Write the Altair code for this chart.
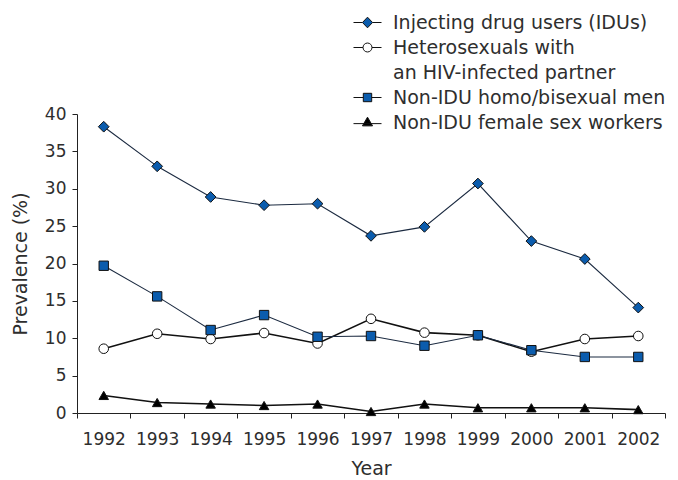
import altair as alt
import pandas as pd

BLUE = "#0B5CAD"
INK = "#222222"
TEXT = "#2e2e2e"
FONT = "DejaVu Sans"

years = ["1992", "1993", "1994", "1995", "1996", "1997", "1998", "1999", "2000", "2001", "2002"]
series_names = [
    "Injecting drug users (IDUs)",
    "Heterosexuals with an HIV-infected partner",
    "Non-IDU homo/bisexual men",
    "Non-IDU female sex workers",
]
idu = [38.3, 33.0, 28.9, 27.8, 28.0, 23.7, 24.9, 30.7, 23.0, 20.6, 14.1]
het = [8.6, 10.6, 9.9, 10.7, 9.3, 12.6, 10.75, 10.4, 8.2, 9.9, 10.3]
msm = [19.7, 15.6, 11.1, 13.1, 10.2, 10.3, 9.0, 10.4, 8.4, 7.5, 7.5]
fsw = [2.35, 1.4, 1.2, 1.0, 1.2, 0.2, 1.2, 0.7, 0.7, 0.7, 0.45]

marker_shapes = ["diamond", "circle", "square", "triangle-up"]
marker_fills = [BLUE, "white", BLUE, "black"]
marker_sizes = [115, 92, 88, 90]
line_colors = ["#1b2a40", "#111111", "#1b2a40", "#111111"]
line_widths = [1.1, 1.6, 1.1, 1.6]

legend_labels = [
    "Injecting drug users (IDUs)",
    "Heterosexuals with",
    "an HIV-infected partner",
    "Non-IDU homo/bisexual men",
    "Non-IDU female sex workers",
]
legend_paths = [
    "M-1,0H-0.36M0.36,0H1M0,-0.38L0.36,0L0,0.38L-0.36,0Z",
    "M-1,0H-0.32M0.32,0H1M0.32,0A0.32,0.32 0 1,1 -0.32,0A0.32,0.32 0 1,1 0.32,0Z",
    "M0,0",
    "M-1,0H-0.3M0.3,0H1M-0.3,-0.3H0.3V0.3H-0.3Z",
    "M-1,0.08H1M0,-0.38L0.36,0.24L-0.36,0.24Z",
]
legend_fills = [BLUE, "white", "transparent", BLUE, "black"]
legend_strokes = ["#111111", "#111111", "transparent", "#111111", "#111111"]

rows = []
for name, vals in zip(series_names, [idu, het, msm, fsw]):
    for yr, v in zip(years, vals):
        rows.append({"Year": yr, "Group": name, "Prevalence": v})
df = pd.DataFrame(rows)

x = alt.X(
    "Year:O",
    sort=years,
    scale=alt.Scale(type="band", paddingInner=0, paddingOuter=0),
    axis=alt.Axis(tickBand="extent", labelAngle=0, labelPadding=13, titlePadding=12, tickSize=5),
    title="Year",
)
y = alt.Y(
    "Prevalence:Q",
    scale=alt.Scale(domain=[0, 40], nice=False),
    axis=alt.Axis(values=list(range(0, 41, 5)), labelPadding=6, titlePadding=14, tickSize=5),
    title="Prevalence (%)",
)

base = alt.Chart(df)

layers = []
for name, lc, lw in zip(series_names, line_colors, line_widths):
    layers.append(
        base.transform_filter(alt.datum.Group == name)
        .mark_line(color=lc, strokeWidth=lw)
        .encode(x=x, y=y)
    )
for name, shp, fl, sz in zip(series_names, marker_shapes, marker_fills, marker_sizes):
    layers.append(
        base.transform_filter(alt.datum.Group == name)
        .mark_point(filled=True, shape=shp, size=sz, fill=fl, stroke="#111111", strokeWidth=1, opacity=1)
        .encode(x=x, y=y)
    )

leg = alt.Legend(
    title=None,
    orient="none",
    legendX=276,
    legendY=-106,
    labelFontSize=19,
    labelFont=FONT,
    labelColor=TEXT,
    labelLimit=500,
    labelOffset=11,
    symbolSize=784,
    symbolStrokeWidth=1,
    rowPadding=-0.3,
    padding=0,
)

legend_layer = base.transform_filter("false").mark_point(
    filled=False, size=784, strokeWidth=1, opacity=1
).encode(
    x=x,
    y=y,
    shape=alt.Shape("LegendKey:N", scale=alt.Scale(domain=legend_labels, range=legend_paths), legend=leg),
    fill=alt.Fill("LegendKey:N", scale=alt.Scale(domain=legend_labels, range=legend_fills), legend=leg),
    stroke=alt.Stroke("LegendKey:N", scale=alt.Scale(domain=legend_labels, range=legend_strokes), legend=leg),
)
layers.append(legend_layer)

chart = (
    alt.layer(*layers)
    .properties(width=588, height=299, padding={"left": 3, "top": 0, "right": 0, "bottom": 0})
    .configure_view(stroke=None)
    .configure_axis(
        domainColor=INK,
        tickColor=INK,
        grid=False,
        labelFont=FONT,
        labelFontSize=17,
        labelColor=TEXT,
        titleFont=FONT,
        titleFontSize=19,
        titleFontWeight="normal",
        titleColor=TEXT,
    )
)

chart.save("out.html", embed_options={"renderer": "svg", "actions": False})
